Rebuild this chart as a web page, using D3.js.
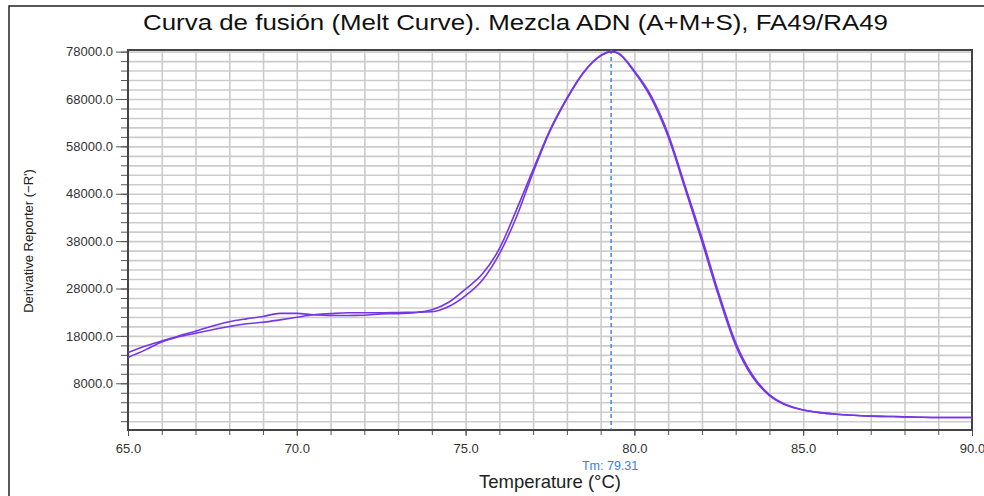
<!DOCTYPE html>
<html>
<head>
<meta charset="utf-8">
<script src="https://cdn.jsdelivr.net/npm/d3@7"></script>
<style>
  body { margin: 0; background: #fff; }
  svg { display: block; font-family: "Liberation Sans", Arial, sans-serif; }
  .grid line { stroke: #cccccc; stroke-width: 1.6; }
  .grid path { display: none; }
  .axis path { display: none; }
  .axis line { stroke: #555; }
</style>
</head>
<body>
<svg width="984" height="496"></svg>
<script>
// temperatures (deg C) where the two melt curves were read
const temps = [65, 65.5, 66, 66.5, 67, 67.5, 68, 68.5, 69, 69.5, 70, 70.5, 71, 71.5, 72, 72.5,
  73, 73.5, 74, 74.5, 75, 75.5, 76, 76.5, 77, 77.5, 78, 78.5, 79, 79.31, 79.5, 80, 80.5,
  81, 81.5, 82, 82.5, 83, 83.5, 84, 84.5, 85, 85.5, 86, 86.5, 87, 87.5, 88, 88.5, 89, 89.5, 90];

const rep1 = [14500, 15800, 16900, 18000, 19000, 20100, 21000, 21600, 22100, 22750, 22750, 22450, 22300, 22320, 22350, 22650,
  22700, 22900, 23500, 25100, 27900, 31100, 36400, 44500, 53100, 61500, 68200, 73700, 77200, 78000, 77700, 73700, 68150,
  60050, 49100, 37900, 26300, 16000, 9300, 5400, 3350, 2350, 1800, 1480, 1250, 1060, 1000, 920, 820, 790, 790, 790];

const rep2 = [13450, 15000, 16700, 17800, 18570, 19300, 19980, 20550, 20880, 21380, 21930, 22450, 22700, 22880, 22880, 22880,
  22950, 23000, 23100, 24200, 26500, 29800, 35300, 43000, 52500, 61200, 68000, 73600, 77100, 78000, 77750, 73900, 68600,
  60600, 49700, 38700, 27000, 16600, 9700, 5600, 3450, 2400, 1800, 1480, 1250, 1060, 1000, 920, 820, 790, 790, 790];

const tm = 79.31;
const yMajorTicks = [8000, 18000, 28000, 38000, 48000, 58000, 68000, 78000];
const xMajorTicks = [65, 70, 75, 80, 85, 90];

const plotL = 128, plotR = 972, plotT = 50, plotB = 430;

const svg = d3.select('svg');

// outer frame (left and top edge only, like the screenshot)
svg.append('path')
  .attr('d', 'M9,496 V6 H984')
  .attr('fill', 'none')
  .attr('stroke', '#222')
  .attr('stroke-width', 1.5);

const x = d3.scaleLinear().domain([65, 90]).range([plotL, plotR]);
const y = d3.scaleLinear().domain([-1860, 78340]).range([plotB, plotT]);

// grid
svg.append('g')
  .attr('class', 'grid')
  .attr('transform', `translate(${plotL},0)`)
  .call(d3.axisLeft(y)
    .tickValues(d3.range(0, 78001, 2000))
    .tickSize(-(plotR - plotL))
    .tickFormat(''));

svg.append('g')
  .attr('class', 'grid')
  .attr('transform', `translate(0,${plotB})`)
  .call(d3.axisBottom(x)
    .tickValues(d3.range(66, 90, 1))
    .tickSize(-(plotB - plotT))
    .tickFormat(''));

// minor ticks outside the frame
svg.append('g')
  .attr('class', 'axis')
  .attr('transform', `translate(${plotL},0)`)
  .call(d3.axisLeft(y).tickValues(d3.range(0, 78001, 2000)).tickSize(7).tickFormat(''));

const yAxis = svg.append('g')
  .attr('class', 'axis')
  .attr('transform', `translate(${plotL},0)`)
  .call(d3.axisLeft(y).tickValues(yMajorTicks).tickSize(12).tickPadding(3)
    .tickFormat(d => d.toFixed(1)));

svg.append('g')
  .attr('class', 'axis')
  .attr('transform', `translate(0,${plotB})`)
  .call(d3.axisBottom(x).tickValues(d3.range(65, 90.01, 1)).tickSize(5).tickFormat(''));

const xAxis = svg.append('g')
  .attr('class', 'axis')
  .attr('transform', `translate(0,${plotB})`)
  .call(d3.axisBottom(x).tickValues(xMajorTicks).tickSize(6).tickPadding(8)
    .tickFormat(d => d.toFixed(1)));

[yAxis, xAxis].forEach(g => {
  g.attr('font-family', null).attr('font-size', null);
  g.selectAll('text')
    .style('font-size', '13px')
    .style('font-family', '"Liberation Sans", Arial, sans-serif')
    .attr('fill', '#333');
});

// plot frame
svg.append('rect')
  .attr('x', plotL).attr('y', plotT)
  .attr('width', plotR - plotL).attr('height', plotB - plotT)
  .attr('fill', 'none')
  .attr('stroke', '#444')
  .attr('stroke-width', 2);

// Tm marker
svg.append('line')
  .attr('x1', x(tm)).attr('x2', x(tm))
  .attr('y1', plotT).attr('y2', plotB)
  .attr('stroke', '#3f86ec')
  .attr('stroke-width', 1.5)
  .attr('stroke-dasharray', '4,3');

svg.append('text')
  .attr('x', x(tm) - 1)
  .attr('y', 470)
  .attr('text-anchor', 'middle')
  .attr('font-size', 12.5)
  .attr('fill', '#3a80e8')
  .text('Tm: ' + tm);

// curves
const line = d3.line()
  .x((d, i) => x(temps[i]))
  .y(d => y(d))
  .curve(d3.curveMonotoneX);

[rep1, rep2].forEach(s => {
  svg.append('path')
    .datum(s)
    .attr('fill', 'none')
    .attr('stroke', '#7436e6')
    .attr('stroke-width', 1.6)
    .attr('d', line);
});

// titles
svg.append('text')
  .attr('x', 143)
  .attr('y', 30)
  .attr('font-size', 22)
  .attr('fill', '#111')
  .attr('textLength', 745)
  .attr('lengthAdjust', 'spacingAndGlyphs')
  .text('Curva de fusión (Melt Curve). Mezcla ADN (A+M+S), FA49/RA49');

svg.append('text')
  .attr('transform', 'translate(33,241) rotate(-90)')
  .attr('text-anchor', 'middle')
  .attr('font-size', 13)
  .attr('fill', '#222')
  .text("Derivative Reporter (\u2212R')");

svg.append('text')
  .attr('x', 550)
  .attr('y', 488)
  .attr('text-anchor', 'middle')
  .attr('font-size', 18.5)
  .attr('fill', '#222')
  .text('Temperature (\u00B0C)');
</script>
</body>
</html>
